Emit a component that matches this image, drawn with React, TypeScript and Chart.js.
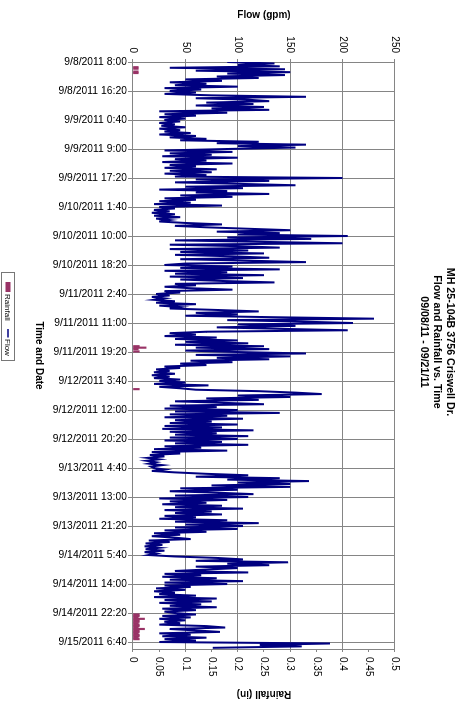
import React, { useEffect, useRef } from "react";
import { Chart, registerables } from "chart.js";

Chart.register(...registerables);

// ---------- data ----------
const titleLines = ["MH 25-104B 3756 Criswell Dr.", "Flow and Rainfall vs. Time", "09/08/11 - 09/21/11"];

// minutes after 9/8/2011 8:00; one label every 500 minutes
const timeTickLabels = [
  "9/8/2011 8:00", "9/8/2011 16:20", "9/9/2011 0:40", "9/9/2011 9:00", "9/9/2011 17:20",
  "9/10/2011 1:40", "9/10/2011 10:00", "9/10/2011 18:20", "9/11/2011 2:40", "9/11/2011 11:00",
  "9/11/2011 19:20", "9/12/2011 3:40", "9/12/2011 12:00", "9/12/2011 20:20", "9/13/2011 4:40",
  "9/13/2011 13:00", "9/13/2011 21:20", "9/14/2011 5:40", "9/14/2011 14:00", "9/14/2011 22:20",
  "9/15/2011 6:40",
];
const LABEL_STEP_MIN = 500;
const SAMPLE_STEP_MIN = 25;
const TIME_MAX_MIN = 10120;

// Flow (gpm), one reading every 25 minutes from 9/8/2011 8:00
const flowGpm = [
  90, 135, 100, 140, 35, 145, 60, 150, 90, 145, 80, 120, 50, 85, 35, 70, 40, 100, 30, 65,
  35, 60, 30, 75, 165, 60, 110, 130, 70, 115, 60, 125, 75, 130, 25, 90, 30, 60, 25, 50,
  30, 45, 25, 40, 27, 50, 25, 45, 30, 55, 25, 60, 35, 70, 45, 120, 80, 165, 100, 155,
  90, 30, 95, 35, 75, 28, 100, 40, 70, 28, 95, 35, 60, 30, 80, 35, 75, 30, 70, 40,
  200, 60, 130, 40, 100, 155, 50, 105, 25, 90, 60, 130, 45, 95, 30, 60, 25, 55, 20, 85,
  25, 40, 20, 35, 18, 40, 20, 45, 22, 35, 25, 50, 85, 40, 70, 110, 150, 80, 140, 100,
  205, 90, 170, 40, 120, 200, 35, 100, 140, 35, 110, 45, 125, 40, 95, 130, 45, 110, 165, 50,
  30, 95, 45, 140, 30, 90, 40, 125, 35, 105, 45, 85, 135, 40, 60, 30, 55, 95, 30, 45,
  22, 35, 18, 30, 20, 40, 22, 60, 25, 45, 35, 80, 120, 60, 100, 50, 135, 230, 90, 160,
  210, 100, 155, 80, 140, 205, 70, 35, 60, 30, 80, 40, 100, 50, 110, 40, 125, 60, 130, 50,
  100, 165, 60, 150, 80, 130, 55, 95, 45, 70, 30, 45, 22, 35, 20, 40, 18, 35, 20, 45,
  25, 50, 20, 72, 25, 45, 60, 120, 155, 180, 100, 150, 70, 120, 40, 85, 125, 35, 80, 30,
  100, 40, 140, 35, 90, 30, 105, 40, 75, 35, 100, 30, 85, 28, 115, 35, 80, 40, 110, 35,
  100, 30, 85, 40, 110, 30, 65, 20, 90, 18, 45, 16, 30, 14, 25, 13, 22, 15, 28, 17,
  20, 30, 18, 40, 70, 110, 60, 140, 90, 168, 100, 150, 75, 150, 45, 100, 35, 80, 115, 40,
  110, 25, 90, 35, 70, 28, 85, 40, 105, 30, 75, 40, 85, 30, 60, 25, 90, 40, 120, 50,
  105, 40, 100, 30, 70, 20, 45, 18, 40, 55, 15, 35, 12, 28, 11, 25, 12, 30, 11, 22,
  15, 40, 80, 105, 60, 148, 90, 130, 60, 100, 70, 40, 110, 30, 65, 28, 80, 35, 105, 30,
  90, 30, 55, 22, 50, 20, 40, 25, 60, 20, 80, 30, 75, 25, 65, 35, 80, 28, 60, 30,
  40, 60, 28, 55, 25, 50, 30, 45, 25, 70, 88, 35, 60, 83, 25, 55, 28, 70, 30, 60,
  25, 188, 121, 161, 76,
];

// Rainfall (in): minutes after 9/8/2011 8:00 and depth
const rainMinutes = [
  90, 115, 165, 190,
  4900, 4925, 4950, 4990,
  5640,
  9525, 9550, 9575, 9600, 9625, 9650, 9675, 9700, 9725, 9750, 9775, 9800, 9825, 9850, 9875, 9900, 9925, 9950,
];
const rainInches = [
  0.01, 0.01, 0.01, 0.01,
  0.012, 0.025, 0.01, 0.012,
  0.012,
  0.012, 0.012, 0.01, 0.022, 0.012, 0.012, 0.01, 0.012, 0.012, 0.01, 0.022, 0.012, 0.012, 0.01, 0.012, 0.012, 0.01, 0.012,
];

const legendItems = ["Rainfall", "Flow"];

// ---------- style ----------
const FONT = '"Liberation Sans", Arial, Helvetica, sans-serif';
const FLOW_COLOR = "#000080";
const RAIN_COLOR = "#993366";
const GRID_COLOR = "#858585";

const overlayPlugin = {
  id: "overlay",
  afterDraw(chart: any) {
    const ctx = chart.ctx as CanvasRenderingContext2D;
    ctx.save();
    // title
    ctx.fillStyle = "#000";
    ctx.font = `bold 10.7px ${FONT}`;
    ctx.textAlign = "center";
    ctx.textBaseline = "middle";
    titleLines.forEach((t, i) => ctx.fillText(t, 342, 16.5 + i * 12.7));
    // legend
    ctx.fillStyle = "#fff";
    ctx.fillRect(272.5, 451.5, 88, 13);
    ctx.strokeStyle = "#777";
    ctx.lineWidth = 1;
    ctx.strokeRect(272.5, 451.5, 88, 13);
    ctx.fillStyle = RAIN_COLOR;
    ctx.fillRect(282, 455.5, 10, 5);
    ctx.strokeStyle = FLOW_COLOR;
    ctx.lineWidth = 1.5;
    ctx.beginPath();
    ctx.moveTo(329, 458);
    ctx.lineTo(337.5, 458);
    ctx.stroke();
    ctx.fillStyle = "#000";
    ctx.font = `8px ${FONT}`;
    ctx.textAlign = "left";
    ctx.fillText(legendItems[0], 294, 458.5);
    ctx.fillText(legendItems[1], 339, 458.5);
    ctx.restore();
  },
};

export default function App() {
  const ref = useRef<HTMLCanvasElement | null>(null);

  useEffect(() => {
    if (!ref.current) return;
    const chart = new Chart(ref.current, {
      data: {
        datasets: [
          {
            type: "bar",
            label: "Rainfall",
            data: rainMinutes.map((m, i) => ({ x: m, y: rainInches[i] })),
            backgroundColor: RAIN_COLOR,
            borderWidth: 0,
            barThickness: 1.5,
            yAxisID: "y2",
            xAxisID: "x",
            order: 1,
          },
          {
            type: "line",
            label: "Flow",
            data: flowGpm.map((v, i) => ({ x: i * SAMPLE_STEP_MIN, y: v })),
            borderColor: FLOW_COLOR,
            backgroundColor: FLOW_COLOR,
            borderWidth: 2,
            pointRadius: 0,
            tension: 0,
            yAxisID: "y",
            xAxisID: "x",
            order: 2,
          },
        ],
      },
      options: {
        responsive: false,
        animation: false,
        events: [],
        layout: { padding: { top: 71, left: 0, right: 0, bottom: 0 } },
        plugins: { legend: { display: false }, title: { display: false }, tooltip: { enabled: false } },
        scales: {
          x: {
            type: "linear",
            position: "bottom",
            min: 0,
            max: TIME_MAX_MIN,
            offset: false,
            grid: { color: GRID_COLOR, tickLength: 5, tickColor: GRID_COLOR, offset: false },
            border: { color: GRID_COLOR },
            afterBuildTicks: (s: any) => {
              s.ticks = timeTickLabels.map((_, i) => ({ value: i * LABEL_STEP_MIN }));
            },
            ticks: {
              autoSkip: false,
              minRotation: 90,
              maxRotation: 90,
              padding: 1,
              color: "#000",
              font: { family: FONT, size: 10.4 },
              callback: (_v: any, i: number) => timeTickLabels[i] ?? "",
            },
            title: {
              display: true,
              text: "Time and Date",
              color: "#000",
              font: { family: FONT, size: 10, weight: "bold" },
              padding: { top: 0, bottom: 33 },
            },
            afterFit: (s: any) => { s.height = 133; },
          },
          y: {
            type: "linear",
            position: "left",
            min: 0,
            max: 250,
            grid: { color: GRID_COLOR, tickLength: 3, tickColor: GRID_COLOR },
            border: { color: GRID_COLOR },
            ticks: { stepSize: 50, padding: 6, color: "#000", font: { family: FONT, size: 10 } },
            title: {
              display: true,
              text: "Flow (gpm)",
              color: "#000",
              font: { family: FONT, size: 10, weight: "bold" },
              padding: { top: 9, bottom: 0 },
            },
            afterFit: (s: any) => { s.width = 62; },
          },
          y2: {
            type: "linear",
            position: "right",
            min: 0,
            max: 0.5,
            grid: { drawOnChartArea: false, tickLength: 3, color: GRID_COLOR, tickColor: GRID_COLOR },
            border: { color: GRID_COLOR },
            ticks: {
              stepSize: 0.05,
              padding: 5,
              color: "#000",
              font: { family: FONT, size: 10 },
              callback: (v: any) => String(Math.round(Number(v) * 100) / 100),
            },
            title: {
              display: true,
              text: "Rainfall (in)",
              color: "#000",
              font: { family: FONT, size: 10, weight: "bold" },
              padding: { top: 6, bottom: 0 },
            },
            afterFit: (s: any) => { s.width = 57; },
          },
        },
      } as any,
      plugins: [overlayPlugin],
    } as any);
    return () => chart.destroy();
  }, []);

  return (
    <div
      style={{
        position: "absolute",
        left: 0,
        top: 0,
        width: 706,
        height: 466,
        background: "#fff",
        transformOrigin: "0 0",
        transform: "translateX(466px) rotate(90deg)",
      }}
    >
      <canvas ref={ref} width={706} height={466} style={{ display: "block", width: 706, height: 466 }} />
    </div>
  );
}
